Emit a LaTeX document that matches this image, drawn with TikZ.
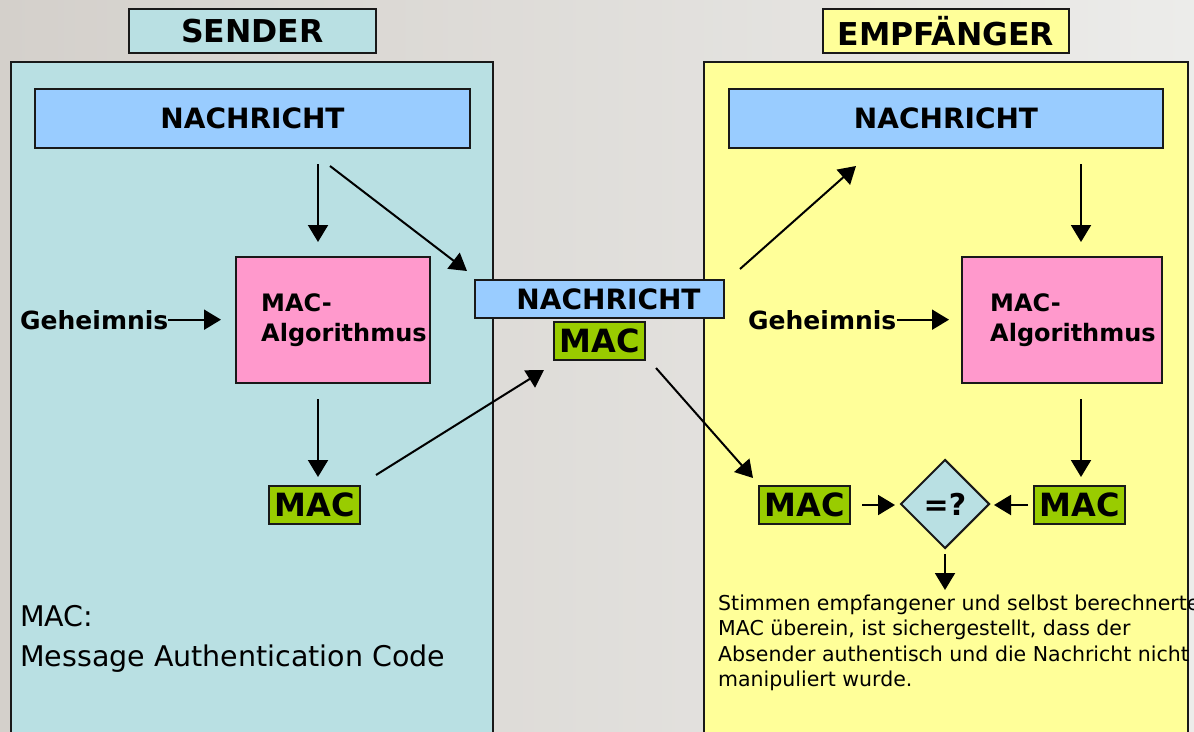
\documentclass[tikz,border=0pt]{standalone}
\usepackage{fontspec}
\setmainfont{DejaVu Sans}
\usetikzlibrary{arrows.meta,shapes.geometric,calc}

\definecolor{bgl}{RGB}{212,208,203}
\definecolor{bgr}{RGB}{236,236,234}
\definecolor{sendc}{RGB}{185,224,227}
\definecolor{recvc}{RGB}{255,255,153}
\definecolor{msgc}{RGB}{153,204,255}
\definecolor{algc}{RGB}{255,153,204}
\definecolor{macc}{RGB}{153,204,0}

\tikzset{
  frame/.style={draw=black!90, line width=2pt},
  box/.style={frame, rectangle, inner sep=0pt},
  titlebox/.style={box, minimum height=44pt, font=\bfseries\fontsize{31.5}{34}\selectfont},
  msgbox/.style={box, fill=msgc, minimum height=59pt, font=\bfseries\fontsize{28}{30}\selectfont},
  midmsg/.style={box, fill=msgc, minimum width=249pt, minimum height=38pt, font=\bfseries\fontsize{28}{30}\selectfont},
  algbox/.style={box, fill=algc, minimum height=126pt},
  algtext/.style={inner sep=0pt, align=left, font=\bfseries\fontsize{24}{29.7}\selectfont},
  macbox/.style={box, fill=macc, minimum width=91pt, minimum height=38pt, font=\bfseries\fontsize{32}{34}\selectfont},
  secret/.style={inner sep=0pt, font=\bfseries\fontsize{25}{28}\selectfont},
  note/.style={inner sep=0pt, align=left},
  arr/.style={line width=2pt, -{Triangle[length=17pt,width=20pt]}},
}

\begin{document}
\begin{tikzpicture}[x=1pt,y=-1pt]
  % canvas
  \shade[left color=bgl, right color=bgr] (0,0) rectangle (1194,731);
  \useasboundingbox (0,0) rectangle (1194,731);
  \clip (0,0) rectangle (1194,731);

  % the two sides
  \draw[frame, fill=sendc] (11,62) rectangle (493,745);
  \draw[frame, fill=recvc] (704,62) rectangle (1188,745);

  \node[titlebox, fill=sendc, minimum width=247pt] (stitle) at (252.5,31) {SENDER};
  \node[titlebox, fill=recvc, minimum width=246pt] (rtitle) at (946,31) {EMPFÄNGER};

  % sender (multi-line nodes are anchored at the baseline of their last line)
  \node[msgbox, minimum width=435pt] (n1) at (252.5,118.5) {NACHRICHT};
  \node[algbox, minimum width=194pt] (alg1) at (333,320) {};
  \node[algtext, anchor=base west] (at1) at (261,341) {MAC-\\Algorithmus};
  \node[secret, anchor=base west] (gh1) at (20,329) {Geheimnis};
  \node[macbox] (mac1) at (314.5,505) {MAC};

  \node[note, anchor=base west, font=\fontsize{28.5}{40}\selectfont] (def) at (20,666)
    {MAC:\\Message Authentication Code};

  % transmitted pair
  \node[midmsg] (m1) at (599.5,299) {\hspace*{18pt}NACHRICHT};
  \node[macbox] (mm) at (599.5,341) {MAC};

  % receiver
  \node[msgbox, minimum width=434pt] (rn) at (946,118.5) {NACHRICHT};
  \node[algbox, minimum width=200pt] (ralg) at (1062,320) {};
  \node[algtext, anchor=base west] (at2) at (990,341) {MAC-\\Algorithmus};
  \node[secret, anchor=base west] (gh2) at (748,329) {Geheimnis};
  \node[macbox] (rmac1) at (804.5,505) {MAC};
  \node[macbox] (rmac2) at (1079.5,505) {MAC};
  \node[diamond, frame, fill=sendc, aspect=1, inner sep=0pt,
        minimum width=89pt, minimum height=89pt,
        font=\bfseries\fontsize{30}{32}\selectfont] (cmp) at (945,504) {=?};
  \coordinate (res) at (945,590);

  \node[note, anchor=base west, font=\fontsize{20.5}{25.5}\selectfont] (concl) at (718,686.5)
    {Stimmen empfangener und selbst berechnerte\\
     MAC überein, ist sichergestellt, dass der\\
     Absender authentisch und die Nachricht nicht\\
     manipuliert wurde.};

  % sender flow
  \draw[arr, shorten <=15pt, shorten >=14pt] ([xshift=65.5pt]n1.south) -- ([xshift=-15pt]alg1.north);
  \draw[arr, shorten >=14pt] (gh1.east) -- (gh1.east -| alg1.west);
  \draw[arr, shorten <=15pt, shorten >=8pt] ([xshift=-15pt]alg1.south) -- ([xshift=3.5pt]mac1.north);

  % transfer
  \draw[arr] ([shift={(77.5,17)}]n1.south) -- ([shift={(-7,-8)}]m1.north west);
  \draw[arr] ([shift={(15,-10)}]mac1.north east) -- ([shift={(-9,9)}]mm.south west);
  \draw[arr] ([shift={(15,-10)}]m1.north east) -- ([shift={(-90,17)}]rn.south);
  \draw[arr] ([shift={(10,7)}]mm.south east) -- ([shift={(-5,-7)}]rmac1.north west);

  % receiver flow
  \draw[arr, shorten <=15pt, shorten >=14pt] ([xshift=135pt]rn.south) -- ([xshift=19pt]ralg.north);
  \draw[arr, shorten >=12pt] (gh2.east) -- (gh2.east -| ralg.west);
  \draw[arr, shorten <=15pt, shorten >=8pt] ([xshift=19pt]ralg.south) -- ([xshift=1.5pt]rmac2.north);
  \draw[arr, shorten <=11pt, shorten >=4.5pt] (rmac1.east) -- (rmac1.east -| cmp.west);
  \draw[arr, shorten <=5pt, shorten >=3.5pt] (rmac2.west) -- (rmac2.west -| cmp.east);
  \draw[arr, shorten <=4.5pt] (cmp.south) -- (res);
\end{tikzpicture}
\end{document}
